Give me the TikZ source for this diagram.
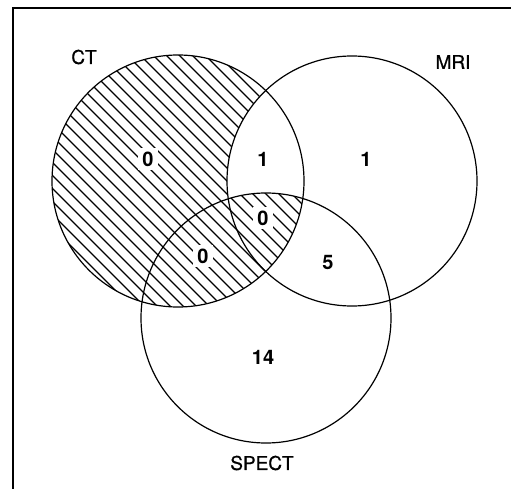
\documentclass[tikz,border=0pt]{standalone}
\usepackage{fontspec}
\setmainfont{TeX Gyre Heros}
\newfontfamily\setfont{TeX Gyre Heros}[FakeBold=0.8]
\usepackage{tikz}
\usetikzlibrary{positioning}
\tikzset{
	setname/.style={font=\setfont\fontsize{19}{21}\selectfont},
	count/.style={font=\fontsize{20}{22}\selectfont\bfseries, fill=white, inner sep=4pt},
	ring/.style={line width=1.2pt},
	hatch/.style={line width=1.2pt}
}

\begin{document}
\begin{tikzpicture}[x=1pt, y=-1pt]
		
		\useasboundingbox (0,0) rectangle (511,489);
		
		% Centres of the three sets
		\coordinate (ct) at (178,181);
		\coordinate (mri) at (352,181);
		\coordinate (spect) at (266,318);
		
		% Frame
		\draw[line width=1.5pt] (13,520) -- (13,8) -- (530,8);
		
		% Hatch the CT circle
		\begin{scope}
			\clip (ct) circle (126pt);
			\foreach \c in {-500,-487,...,560}
			\draw[hatch] (\c,0) -- ++(520,520);
			% MRI and CT only is left blank
			\clip (mri) circle (125pt);
			\fill[white, even odd rule] (0,0) rectangle (511,489) (spect) circle (125pt);
		\end{scope}
		
		% Draw circles
		\draw[ring] (ct) circle (126pt);
		\draw[ring] (mri) circle (125pt);
		\draw[ring] (spect) circle (125pt);
		
		% Set names
		\node[setname] (ctname) at (84,57) {CT};
		\node[setname] (mriname) at (453,62) {MRI};
		\node[setname] (spectname) at (262,463) {SPECT};
		
		% Counts
		\node[count] (ctonly) at (148,159) {0};
		\node[count, fill=none] (ctmri) at (263,159) {1};
		\node[count, fill=none] (mrionly) at (366,159) {1};
		\node[count] (all) at (263,218) {0};
		\node[count] (ctspect) at (203,256) {0};
		\node[count, fill=none] (mrispect) at (328,262) {5};
		\node[count, fill=none] (spectonly) at (263,357) {14};
		
	\end{tikzpicture}
\end{document}
